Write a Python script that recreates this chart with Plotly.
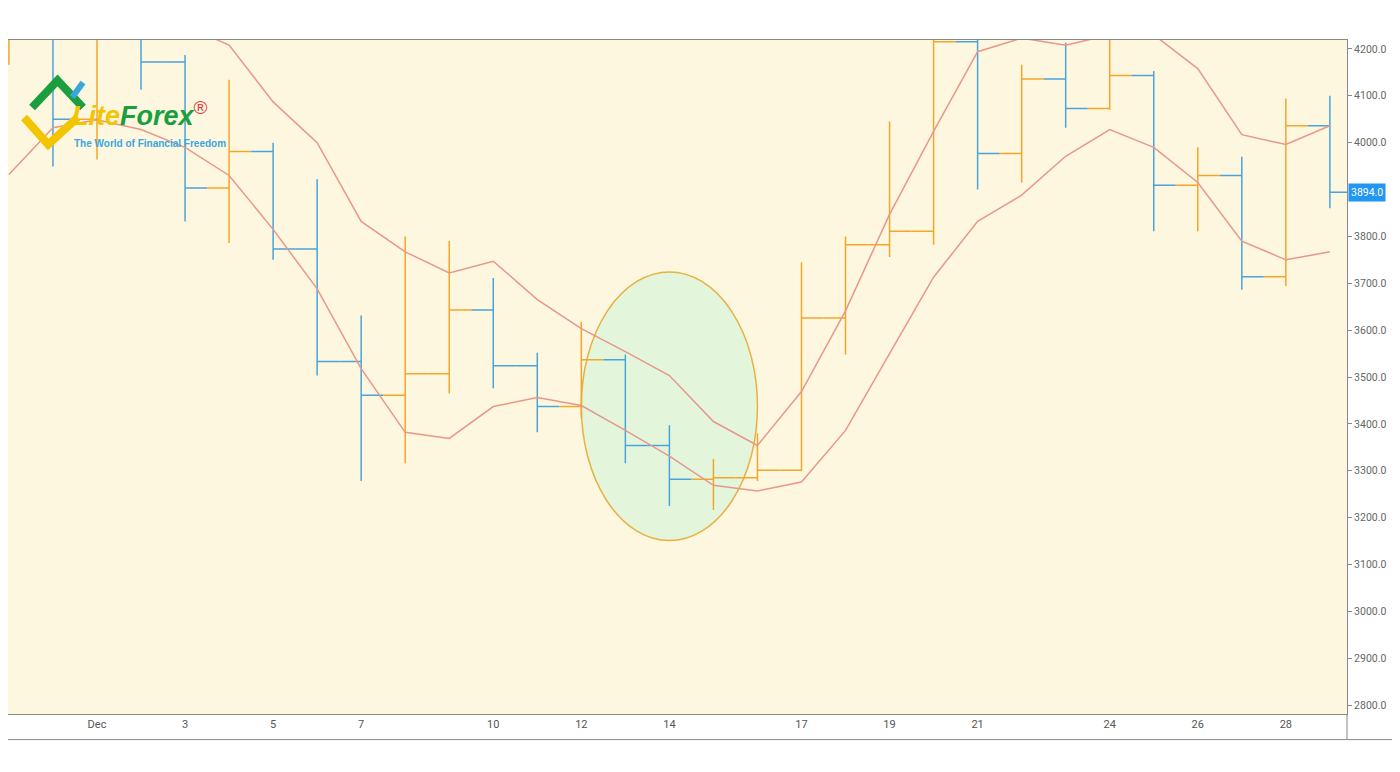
import plotly.graph_objects as go

dates = ["2020-11-29","2020-11-30","2020-12-01","2020-12-02","2020-12-03","2020-12-04","2020-12-05",
         "2020-12-06","2020-12-07","2020-12-08","2020-12-09","2020-12-10","2020-12-11","2020-12-12",
         "2020-12-13","2020-12-14","2020-12-15","2020-12-16","2020-12-17","2020-12-18","2020-12-19",
         "2020-12-20","2020-12-21","2020-12-22","2020-12-23","2020-12-24","2020-12-25","2020-12-26",
         "2020-12-27","2020-12-28","2020-12-29"]
opens  = [4180,4300,4050,4240,4172,3903,3981,3773,3533,3461,3507,3643,3524,3437,3537,3354,3282,3285,3301,3626,3782,3811,4215,3977,4136,4073,4143,3909,3930,3714,4036]
highs  = [4350,4330,4320,4280,4187,4134,4000,3922,3631,3800,3790,3711,3552,3618,3548,3397,3325,3380,3745,3800,4045,4260,4250,4166,4213,4260,4153,3990,3970,4094,4100]
lows   = [4166,3949,3964,4113,3832,3786,3750,3503,3278,3316,3465,3476,3382,3412,3316,3225,3216,3278,3299,3548,3756,3782,3900,3915,4032,4070,3811,3811,3686,3694,3860]
closes = [4300,4050,4240,4172,3903,3981,3773,3533,3461,3507,3643,3524,3437,3537,3354,3282,3285,3301,3626,3782,3811,4215,3977,4136,4073,4143,3909,3930,3714,4036,3894]
upper  = [4400,4380,4350,4300,4250,4208,4087,4000,3832,3767,3722,3747,3665,3603,3554,3503,3405,3354,3469,3641,3847,4024,4194,4223,4208,4230,4230,4158,4017,3996,4036]
lower  = [3932,4032,4049,4028,3990,3930,3815,3688,3518,3382,3369,3437,3456,3439,3386,3331,3269,3257,3276,3386,3550,3713,3832,3888,3971,4028,3990,3915,3790,3750,3767]
tick_vals = ["2020-12-01","2020-12-03","2020-12-05","2020-12-07","2020-12-10","2020-12-12","2020-12-14",
             "2020-12-17","2020-12-19","2020-12-21","2020-12-24","2020-12-26","2020-12-28"]
tick_text = ["Dec","3","5","7","10","12","14","17","19","21","24","26","28"]
y_ticks = [2800,2900,3000,3100,3200,3300,3400,3500,3600,3700,3800,4000,4100,4200]
last_price = 3894.0

BLUE = "#4ba3dc"
ORANGE = "#f4a62a"
RED = "#e8978b"
BG = "#fdf7df"

fig = go.Figure()
fig.add_shape(type="circle", xref="x", yref="y", x0="2020-12-12", x1="2020-12-16",
              y0=3151, y1=3724, fillcolor="#e3f6dc", line=dict(color="#e9b044", width=1.5), layer="below")
fig.add_trace(go.Scatter(x=dates, y=upper, mode="lines", line=dict(color=RED, width=1.5), hoverinfo="skip"))
fig.add_trace(go.Scatter(x=dates, y=lower, mode="lines", line=dict(color=RED, width=1.5), hoverinfo="skip"))
fig.add_trace(go.Ohlc(x=dates, open=opens, high=highs, low=lows, close=closes, tickwidth=0.5,
                      increasing=dict(line=dict(color=ORANGE, width=1.5)),
                      decreasing=dict(line=dict(color=BLUE, width=1.5))))

fig.update_layout(
    width=1384, height=756, showlegend=False,
    paper_bgcolor="white", plot_bgcolor=BG,
    margin=dict(l=0, r=45, t=32, b=50),
    font=dict(family="Roboto, Arial", size=11, color="#555"),
    xaxis=dict(range=["2020-11-28 23:30", "2020-12-29 09:20"], tickvals=tick_vals, ticktext=tick_text,
               showgrid=False, rangeslider=dict(visible=False), showline=True, linecolor="#888",
               mirror=True, ticks="", tickfont=dict(size=11, color="#555")),
    yaxis=dict(range=[2781, 4219], side="right", tickvals=y_ticks, tickformat=".1f",
               showgrid=False, showline=True, linecolor="#888", mirror=True,
               ticks="outside", ticklen=4, tickcolor="#888", tickfont=dict(size=10.5, color="#666")),
)
fig.add_shape(type="line", xref="paper", yref="paper", x0=0, x1=1.034, y0=-0.038, y1=-0.038,
              line=dict(color="#888", width=1))
fig.add_shape(type="line", xref="paper", yref="paper", x0=1.0, x1=1.0, y0=-0.038, y1=0,
              line=dict(color="#888", width=1))
fig.add_annotation(xref="paper", yref="y", x=1.0, y=last_price, text=f"{last_price:.1f}",
                   showarrow=False, xanchor="left", xshift=1, bgcolor="#2196f3",
                   font=dict(color="white", size=10.5), borderpad=2)
# logo
fig.add_shape(type="path", xref="paper", yref="paper",
              path="M 0.012 0.885 L 0.03 0.845 L 0.052 0.885", line=dict(color="#f3c400", width=8))
fig.add_shape(type="path", xref="paper", yref="paper",
              path="M 0.018 0.9 L 0.037 0.94 L 0.056 0.9", line=dict(color="#1a9e3e", width=8))
fig.add_shape(type="line", xref="paper", yref="paper", x0=0.048, y0=0.915, x1=0.056, y1=0.937,
              line=dict(color="#3aa6e0", width=6))
fig.add_annotation(xref="paper", yref="paper", x=0.046, y=0.89, xanchor="left", yanchor="middle",
                   showarrow=False,
                   text="<b><i><span style='color:#f3c400'>Lite</span><span style='color:#1a9e3e'>Forex</span></i></b><sup style='color:#e04040'>®</sup>",
                   font=dict(family="Arial", size=27))
fig.add_annotation(xref="paper", yref="paper", x=0.048, y=0.846, xanchor="left", yanchor="middle",
                   showarrow=False, text="<b>The World of Financial Freedom</b>",
                   font=dict(family="Arial", size=10, color="#3aa6e0"))

fig.write_html("out.html")
